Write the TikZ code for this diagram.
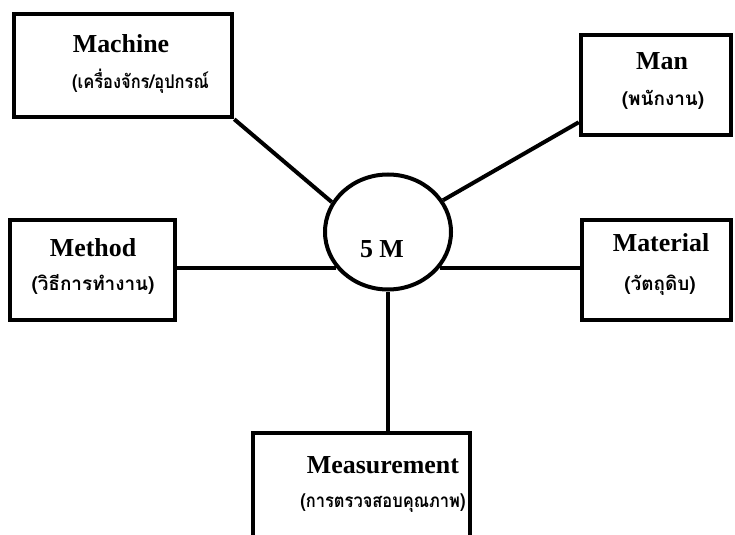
\documentclass[tikz,border=0pt]{standalone}
\usepackage{fontspec}
\setmainfont{Liberation Serif}
\newfontfamily\thaifont[Script=Thai]{Loma}
\newfontfamily\thaicond[Script=Thai,FakeStretch=0.87]{Loma}
\usetikzlibrary{shapes.geometric}
\begin{document}
\begin{tikzpicture}[x=1bp,y=-1bp,
  box/.style={draw,line width=4.5bp,rectangle,inner sep=0pt},
  link/.style={line width=4bp},
  en/.style={font=\fontsize{26}{30}\selectfont\bfseries,anchor=base,inner sep=0pt},
  th/.style={font=\thaifont\fontsize{19}{24}\selectfont\bfseries,anchor=base,inner sep=0pt},
  thc/.style={th,font=\thaicond\fontsize{19}{24}\selectfont\bfseries}]
  \useasboundingbox (0,0) rectangle (735,535);
  \clip (0,0) rectangle (735,535);
  % the five boxes
  \node[box,minimum width=218bp,minimum height=103bp] (machine) at (123,65.5) {};
  \node[box,minimum width=150bp,minimum height=100bp] (man) at (656,85) {};
  \node[box,minimum width=165bp,minimum height=100bp] (method) at (92.5,270) {};
  \node[box,minimum width=149bp,minimum height=100bp] (material) at (656.5,270) {};
  \node[box,minimum width=217bp,minimum height=140bp] (measure) at (361.5,503) {};
  % central circle
  \node[draw,ellipse,line width=4bp,minimum width=126bp,minimum height=115bp,inner sep=0pt] (hub) at (388,232) {};
  \node[en] (hubtext) at (382,258) {5 M};
  % labels
  \node[en] (t1) at (121,53) {Machine};
  \node[thc,anchor=base west] (t1b) at (72,89) {(เครื่องจักร/อุปกรณ์};
  \node[en] (t2) at (662,70) {Man};
  \node[th] (t2b) at (663,106) {(พนักงาน)};
  \node[en] (t3) at (93,257) {Method};
  \node[th] (t3b) at (93,291) {(วิธีการทำงาน)};
  \node[en] (t4) at (661,252) {Material};
  \node[th] (t4b) at (660,291) {(วัตถุดิบ)};
  \node[en] (t5) at (383,473) {Measurement};
  \node[thc] (t5b) at (383,507) {(การตรวจสอบคุณภาพ)};
  % connectors
  \draw[link] (machine.south east) -- (hub.152);
  \draw[link] ([yshift=15bp]man.south west) -- (hub.30);
  \draw[link] (hub.215) -- (hub.215 -| method.east);
  \draw[link] (hub.325) -- (hub.325 -| material.west);
  \draw[link] (hub.south) -- (hub.south |- measure.north);
\end{tikzpicture}
\end{document}
